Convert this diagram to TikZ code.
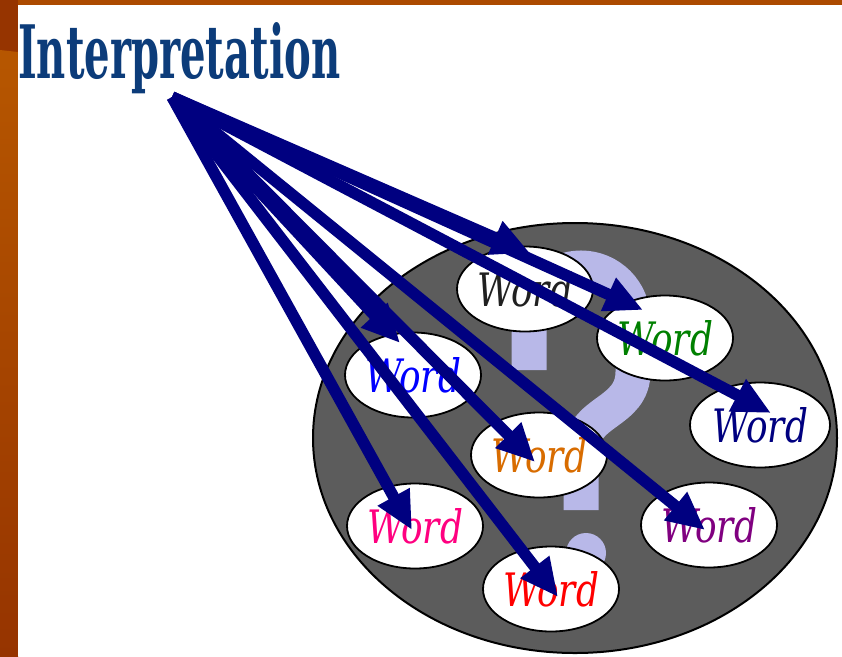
\documentclass[tikz,border=0pt]{standalone}
\usepackage{fontspec}
\usepackage{graphicx}
\usetikzlibrary{arrows.meta,shapes.geometric}
\newfontfamily\slab{DejaVu Serif}

\definecolor{rust}{RGB}{172,74,0}
\definecolor{rustdark}{RGB}{150,52,0}
\definecolor{rustlight}{RGB}{182,86,0}
\definecolor{titleblue}{RGB}{12,60,122}
\definecolor{arrownavy}{RGB}{0,0,128}
\definecolor{plategray}{RGB}{92,92,92}
\definecolor{lavender}{RGB}{184,184,232}
\definecolor{wblack}{RGB}{32,32,32}
\definecolor{wgreen}{RGB}{0,128,0}
\definecolor{wblue}{RGB}{0,0,255}
\definecolor{wnavy}{RGB}{0,0,128}
\definecolor{worange}{RGB}{216,108,0}
\definecolor{wpink}{RGB}{255,0,128}
\definecolor{wpurple}{RGB}{128,0,128}
\definecolor{wred}{RGB}{255,0,0}

% "Word" set in a slab serif italic, squeezed to the label size
\newcommand{\wordtext}{\resizebox{96pt}{35pt}{\fontsize{40}{40}\selectfont\slab\itshape Word}}

\tikzset{
  plate/.style={ellipse, draw=black, line width=2pt, fill=plategray,
    minimum width=524pt, minimum height=430pt, inner sep=0pt},
  wordbox/.style={ellipse, draw=black, line width=1.8pt, fill=white,
    minimum width=136pt, minimum height=85pt, inner sep=0pt},
  wordlabel/.style={inner sep=0pt},
  qmark/.style={draw=lavender, line width=35pt, line cap=butt},
  pointer/.style={draw=arrownavy, line width=11.5pt,
    -{Triangle[length=38pt,width=34pt]}},
}

\begin{document}
\begin{tikzpicture}[x=1pt,y=-1pt]
  \useasboundingbox (0,0) rectangle (842,656);

  % slide frame: rust border on the left and top
  \fill[rust] (0,0) rectangle (842,656);
  \shade[top color=rustlight, bottom color=rustdark] (0,60) rectangle (18,656);
  \fill[rustdark] (0,0) rectangle (18,62);
  \fill[rustlight] (0,50) -- (18,52) -- (18,62) -- (0,64) -- cycle;
  \fill[white] (18,5) rectangle (842,656);

  % title
  \node[anchor=base west, inner sep=0pt, text=titleblue] (interp) at (18,78)
    {\resizebox{322pt}{56pt}{\fontsize{77}{77}\selectfont\slab\bfseries Interpretation}};
  \coordinate (src) at (172,97);

  % grey plate
  \node[plate] (plate) at (575,438) {};

  % question mark behind the words
  \draw[qmark] (529,370) -- (529,320)
    arc[start angle=180, end angle=360, radius=52]
    -- (633,372) .. controls (633,414) and (581,410) .. (581,452) -- (581,510);
  \fill[lavender] (586,553) circle[radius=20];

  % word ellipses
  \node[wordbox] (wBlack)  at (525,289) {};
  \node[wordbox] (wGreen)  at (665,338) {};
  \node[wordbox] (wBlue)   at (413,375) {};
  \node[wordbox, minimum width=140pt] (wNavy) at (760,425) {};
  \node[wordbox] (wOrange) at (539,455) {};
  \node[wordbox] (wPink)   at (415,526) {};
  \node[wordbox] (wPurple) at (709,525) {};
  \node[wordbox] (wRed)    at (551,589) {};

  \node[wordlabel, text=wblack]  at (wBlack)  {\wordtext};
  \node[wordlabel, text=wgreen]  at (wGreen)  {\wordtext};
  \node[wordlabel, text=wblue]   at (wBlue)   {\wordtext};
  \node[wordlabel, text=wnavy]   at (wNavy)   {\wordtext};
  \node[wordlabel, text=worange] at (wOrange) {\wordtext};
  \node[wordlabel, text=wpink]   at (wPink)   {\wordtext};
  \node[wordlabel, text=wpurple] at (wPurple) {\wordtext};
  \node[wordlabel, text=wred]    at (wRed)    {\wordtext};

  % arrow tips inside the words
  \coordinate (tBlack)  at (530,253);
  \coordinate (tGreen)  at (643,310);
  \coordinate (tNavy)   at (771,413);
  \coordinate (tBlue)   at (400,343);
  \coordinate (tOrange) at (535,462);
  \coordinate (tPurple) at (705,530);
  \coordinate (tPink)   at (412,530);
  \coordinate (tRed)    at (558,597);

  % arrows fanning out from the title
  \foreach \t in {tBlack,tGreen,tNavy,tBlue,tOrange,tPurple,tPink,tRed}
    \draw[pointer] (src) -- (\t);
\end{tikzpicture}
\end{document}
